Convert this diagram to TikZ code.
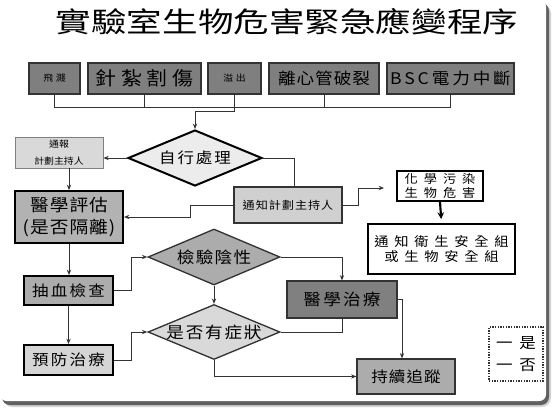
\documentclass[tikz,border=0pt]{standalone}
\usepackage{fontspec}
\setmainfont{Noto Sans CJK TC}[FakeStretch=1.1]
\newfontfamily\titlefont{Noto Sans CJK TC}[FakeStretch=1.27]
\usetikzlibrary{shapes.geometric,arrows.meta,calc}
\newcommand\txf[3]{\fontsize{#1}{#2}\selectfont\addfontfeatures{LetterSpace=#3}}
\definecolor{topgray}{HTML}{7F7F7F}
\definecolor{dk}{HTML}{333333}
\tikzset{
  box/.style={draw=dk, line width=0.9pt, inner sep=0pt, text=black},
  heavy/.style={draw=black, line width=1.5pt, inner sep=0pt, text=black},
  dia/.style={shape=diamond, inner sep=0pt, shape aspect=2.4, minimum width=132*0.75pt, minimum height=56*0.75pt},
  conn/.style={draw=dk, line width=0.7pt},
  arr/.style={conn, -{Stealth[length=4pt,width=3.2pt]}},
  thickarr/.style={draw=black, line width=1.6pt, -{Stealth[length=5pt,width=5pt]}},
}
\begin{document}
\begin{tikzpicture}[x=0.75pt,y=-0.75pt]
\useasboundingbox (0,0) rectangle (552,410);
% frame with shadow
\fill[gray!35, rounded corners=7pt] (3,4) rectangle (551,407);
\fill[gray!75!black, rounded corners=6pt] (2,3) rectangle (549,405);
\fill[white, rounded corners=5pt] (0,0) rectangle (546,401);
\fill[white] (0,0) rectangle (540,395);

% title
\node (title) at (287,22) {\titlefont\fontsize{21pt}{21pt}\selectfont 實驗室生物危害緊急應變程序};

% top row
\node[box, fill=topgray, minimum width=51*0.75pt, minimum height=31*0.75pt, font={\txf{6.75pt}{8pt}{30}}] (fs) at (54.5,78.5) {飛濺};
\node[box, fill=topgray, minimum width=113*0.75pt, minimum height=31*0.75pt, font={\txf{14.25pt}{16pt}{24}}] (zz) at (144.5,78.5) {針紮割傷};
\node[box, fill=topgray, minimum width=53*0.75pt, minimum height=31*0.75pt, font={\txf{6.75pt}{8pt}{30}}] (yc) at (234.5,78.5) {溢出};
\node[box, fill=topgray, minimum width=110*0.75pt, minimum height=31*0.75pt, font={\txf{12pt}{14pt}{6}}] (lx) at (324,78.5) {離心管破裂};
\node[box, fill=topgray, minimum width=127*0.75pt, minimum height=31*0.75pt, font={\txf{12pt}{14pt}{18}}] (bsc) at (450.5,78.5) {BSC電力中斷};
\coordinate (bus) at (0,107);

% decision 自行處理
\node[dia, draw=black, line width=1.5pt, fill=gray!15, minimum width=134*0.75pt, font={\txf{11.25pt}{13pt}{13}}] (zx) at (195,158) {自行處理};

\node[draw=gray, line width=0.6pt, fill=gray!30, inner sep=0pt, minimum width=88*0.75pt, minimum height=31*0.75pt, align=center, font={\txf{6.75pt}{12.75pt}{0}}] (tb) at (59,152.5) {通報\\計劃主持人};

\node[heavy, fill=gray!60, minimum width=108*0.75pt, minimum height=52*0.75pt, align=center, font={\txf{12.75pt}{16.5pt}{6}}] (yx) at (69,217) {醫學評估\\(是否隔離)};

\node[box, fill=gray!37, line width=0.8pt, minimum width=108*0.75pt, minimum height=36*0.75pt, font={\txf{8.25pt}{10pt}{9}}] (tz) at (288,205) {通知計劃主持人};

\node[heavy, fill=white, minimum width=86*0.75pt, minimum height=30*0.75pt, align=center, font={\txf{9pt}{10.2pt}{50}}] (hx) at (440,186) {化學污染\\生物危害};

\node[heavy, fill=white, minimum width=147*0.75pt, minimum height=50*0.75pt, align=center, font={\txf{9.75pt}{10.8pt}{44}}] (ws) at (441.5,249) {通知衛生安全組\\或生物安全組};

\node[heavy, fill=gray!65, minimum width=89*0.75pt, minimum height=29*0.75pt, font={\txf{11.25pt}{13pt}{15}}] (cx) at (68.5,290.5) {抽血檢查};
\node[heavy, fill=gray!33, minimum width=89*0.75pt, minimum height=30*0.75pt, font={\txf{11.25pt}{13pt}{15}}] (yf) at (68.5,360) {預防治療};

\node[dia, draw=dk, line width=1pt, fill=gray!65, font={\txf{12pt}{14pt}{8}}] (jy) at (214,257) {檢驗陰性};
\node[dia, draw=dk, line width=1pt, fill=gray!30, minimum height=55*0.75pt, font={\txf{12pt}{14pt}{11}}] (zz2) at (214,332) {是否有症狀};

\node[box, fill=gray, minimum width=110*0.75pt, minimum height=37*0.75pt, font={\txf{12pt}{14pt}{14}}] (yz) at (342,299.5) {醫學治療};
\node[box, fill=gray!65, minimum width=98*0.75pt, minimum height=35*0.75pt, font={\txf{11.25pt}{13pt}{7}}] (cz) at (406,376.5) {持續追蹤};

\node[draw=dk, densely dotted, line width=1pt, inner sep=0pt, minimum width=54*0.75pt, minimum height=54*0.75pt, align=center, font={\txf{11.25pt}{17pt}{0}}] (lg) at (516,354) {一\hspace{5pt}是\\一\hspace{5pt}否};

% connectors
\draw[conn] (fs.south) -- (fs.south |- bus) -- (bsc.south |- bus) -- (bsc.south);
\draw[conn] (zz.south) -- (zz.south |- bus);
\draw[conn] (lx.south) -- (lx.south |- bus);
\draw[arr] (yc.south) -- ++(0,17) -| (zx.north);
\draw[arr] (zx.west) -- (zx.west -| tb.east);
\draw[arr] (tb.south -| yx.north) -- (yx.north);
\draw[conn] (zx.east) -| ($(tz.north)+(6,0)$);
\draw[arr] (tz.west) -- ++(-43,0) |- (yx.east);
\draw[arr, shorten >=9pt] (tz.east) -- ++(16,0) |- ($(hx.west)+(0,2)$);
\draw[thickarr, shorten >=3pt] (hx.south) -- (ws.north);
\draw[arr] (yx.south) -- (yx.south |- cx.north);
\draw[arr] (cx.south) -- (yf.north);
\draw[arr] (cx.east) -- ++(17,0) |- (jy.west);
\draw[arr] (yf.east) -- ++(17,0) |- (zz2.west);
\draw[arr] (jy.east) -| (yz.north);
\draw[arr] (jy.south) -- (zz2.north);
\draw[conn] (yz.south) |- (zz2.east);
\draw[arr] (yz.east) -| ([xshift=-3pt]cz.north);
\draw[arr] (zz2.south) |- (cz.west);
\end{tikzpicture}
\end{document}
